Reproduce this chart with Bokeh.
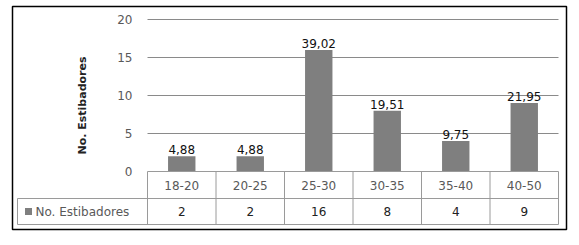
import math
from bokeh.plotting import figure
from bokeh.models import Range1d
from bokeh.core.properties import value
from bokeh.embed import file_html
from bokeh.resources import INLINE

categories = ["18-20", "20-25", "25-30", "30-35", "35-40", "40-50"]
counts = [2, 2, 16, 8, 4, 9]
percents = ["4,88", "4,88", "39,02", "19,51", "9,75", "21,95"]
y_ticks = [0, 5, 10, 15, 20]
series_name = "No. Estibadores"

FONT = value("DejaVu Sans")
W, H = 570, 235
OX, OY = 0, 0          # page offset of the canvas (page renders with no body margin)
X0, CW = 147, 68.5     # page x of first column, column width (px)
Y0, PU = 171, 7.6      # page y of value 0, px per unit


def dx(px):
    return (px - X0) / CW


def dy(py):
    return (Y0 - py) / PU


n = len(categories)
xc = [i + 0.5 for i in range(n)]

p = figure(width=W, height=H, output_backend="svg", toolbar_location=None,
           x_range=Range1d(dx(OX), dx(OX + W)), y_range=Range1d(dy(OY + H), dy(OY)),
           min_border=0, outline_line_color=None,
           x_axis_location=None, y_axis_location=None)
p.grid.visible = False
p.background_fill_color = "white"
p.border_fill_color = "white"

# gridlines
grid_vals = [t for t in y_ticks if t > 0]
p.segment(x0=[0] * len(grid_vals), x1=[n] * len(grid_vals), y0=grid_vals, y1=grid_vals,
          line_color="#8a8a8a", line_width=1)

# bars
p.vbar(x=xc, top=counts, width=0.4, fill_color="#7f7f7f", line_color=None)

# value labels
p.text(x=xc, y=counts, text=percents, text_align="center", text_baseline="bottom",
       y_offset=-2, text_font=FONT, text_font_size="12px", text_color="#111111")

# y tick labels
p.text(x=[dx(132)] * len(y_ticks), y=y_ticks, text=[str(t) for t in y_ticks],
       text_align="right", text_baseline="middle", text_font=FONT,
       text_font_size="12px", text_color="#595959")

# y axis title
p.text(x=[dx(82)], y=[dy(105)], text=[series_name], angle=math.pi / 2,
       text_align="center", text_baseline="middle", text_font=FONT,
       text_font_size="11px", text_font_style="bold", text_color="#222222")

# data table lines
row1 = dy(198)
bottom = dy(224)
left_edge = dx(17)
p.segment(x0=[0, left_edge, left_edge], x1=[n, n, n], y0=[0, row1, bottom], y1=[0, row1, bottom],
          line_color="#9a9a9a", line_width=1)
p.segment(x0=list(range(n + 1)), x1=list(range(n + 1)), y0=[0] * (n + 1), y1=[bottom] * (n + 1),
          line_color="#9a9a9a", line_width=1)
p.segment(x0=[left_edge], x1=[left_edge], y0=[row1], y1=[bottom], line_color="#9a9a9a", line_width=1)

# category labels (table header row)
p.text(x=xc, y=[dy(185)] * n, text=categories, text_align="center", text_baseline="middle",
       text_font=FONT, text_font_size="12px", text_color="#595959")

# data row values
p.text(x=xc, y=[dy(211)] * n, text=[str(c) for c in counts], text_align="center",
       text_baseline="middle", text_font=FONT, text_font_size="12px", text_color="#222222")

# row header: legend key + name
p.scatter(x=[dx(28)], y=[dy(211)], marker="square", size=7, fill_color="#7f7f7f", line_color=None)
p.text(x=[dx(35)], y=[dy(211)], text=[series_name], text_align="left", text_baseline="middle",
       text_font=FONT, text_font_size="12px", text_color="#595959")

# outer border
p.quad(left=[dx(12)], right=[dx(566)], top=[dy(6)], bottom=[dy(229)], fill_color=None,
       line_color="black", line_width=1.5)

open("out.html", "w").write(file_html(p, INLINE))
